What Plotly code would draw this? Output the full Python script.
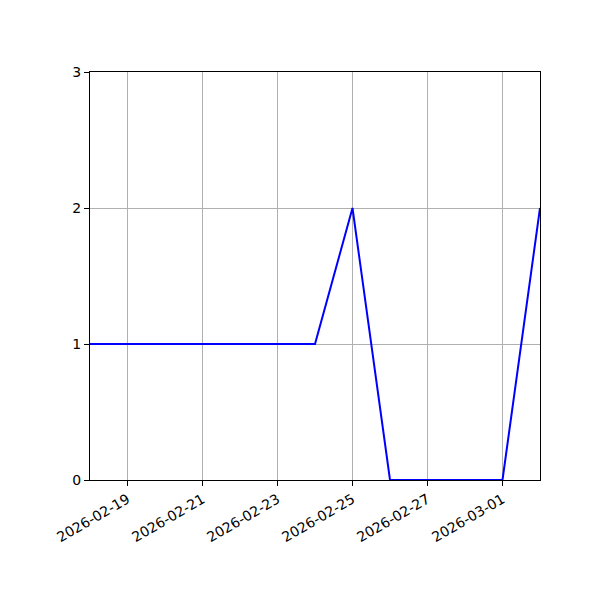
import plotly.graph_objects as go

dates = ["2026-02-18", "2026-02-19", "2026-02-20", "2026-02-21", "2026-02-22",
         "2026-02-23", "2026-02-24", "2026-02-25", "2026-02-26", "2026-02-27",
         "2026-02-28", "2026-03-01", "2026-03-02"]
values = [1, 1, 1, 1, 1, 1, 1, 2, 0, 0, 0, 0, 2]
x_ticks = ["2026-02-19", "2026-02-21", "2026-02-23", "2026-02-25", "2026-02-27", "2026-03-01"]
y_ticks = [0, 1, 2, 3]

fig = go.Figure()
fig.add_trace(go.Scatter(x=dates, y=values, mode="lines",
                         line=dict(color="#0000ff", width=2)))

axis_common = dict(showline=True, linecolor="black", linewidth=1, mirror=True,
                   ticks="outside", ticklen=5, tickcolor="black",
                   showgrid=True, gridcolor="#b0b0b0", gridwidth=1,
                   zeroline=False, tickfont=dict(size=14, color="black"))

fig.update_layout(
    width=600, height=600,
    margin=dict(l=82, r=68, t=64, b=128),
    plot_bgcolor="white", paper_bgcolor="white",
    font=dict(family="DejaVu Sans", size=14, color="black"),
    showlegend=False,
    xaxis=dict(type="date", range=["2026-02-18", "2026-03-02"],
               tickvals=x_ticks, ticktext=x_ticks, tickangle=-30, **axis_common),
    yaxis=dict(range=[0, 3], tickvals=y_ticks, **axis_common),
)

fig.write_html("out.html")
